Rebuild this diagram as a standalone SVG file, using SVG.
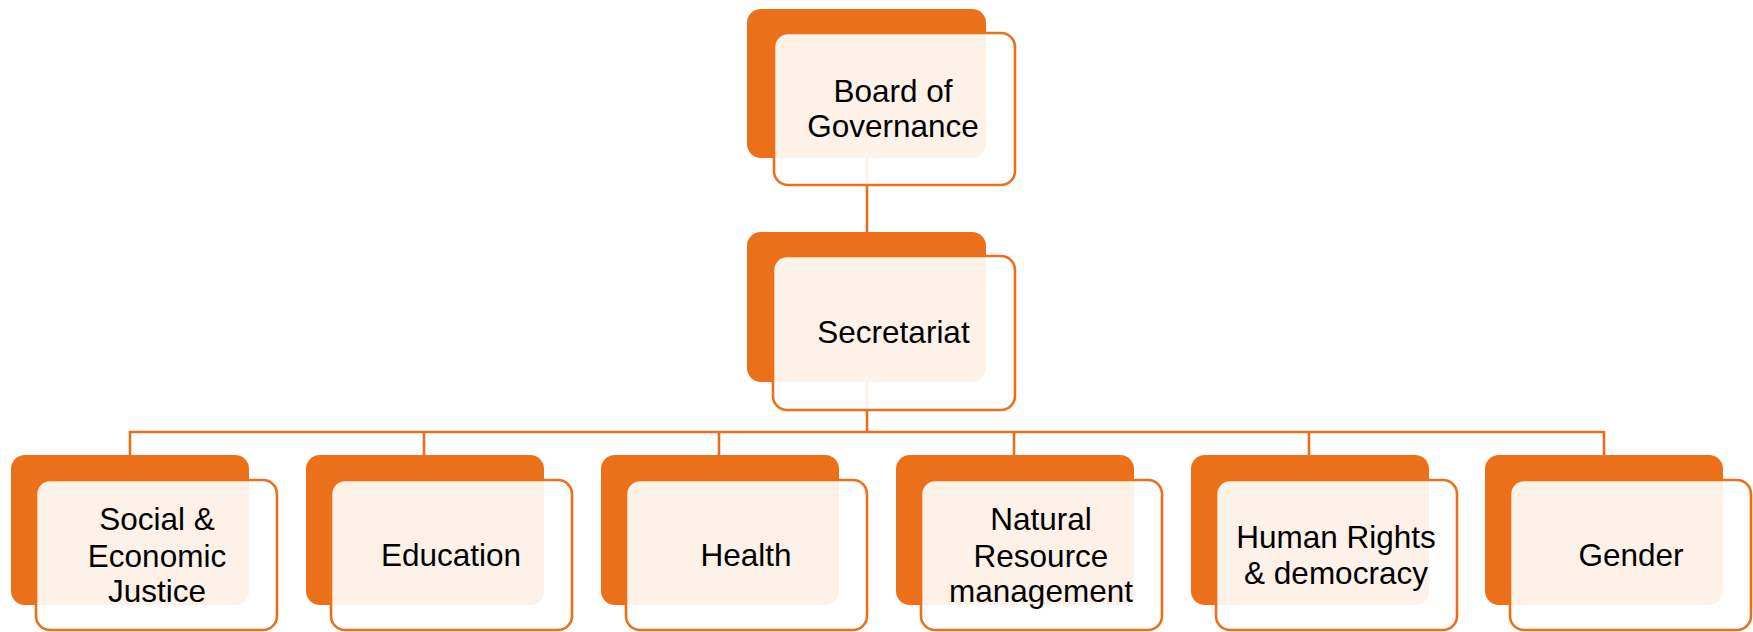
<svg xmlns="http://www.w3.org/2000/svg" width="1753" height="632" viewBox="0 0 1753 632">
<style>
.back{fill:#EC7019;}
.front{fill:#FFFFFF;fill-opacity:0.9;stroke:#EC7019;stroke-width:2.6;}
.conn{stroke:#E76E1B;stroke-width:2.6;fill:none;}
text{font-family:"Liberation Sans",Arial,sans-serif;font-size:31.5px;fill:#000;text-anchor:middle;}
</style>
<rect width="1753" height="632" fill="#FFFFFF"/>
<g id="connectors">
<line class="conn" x1="867" y1="150" x2="867" y2="234"/>
<line class="conn" x1="867" y1="370" x2="867" y2="432"/>
<line class="conn" x1="130" y1="432" x2="1604" y2="432"/>
<line class="conn" x1="130" y1="431" x2="130" y2="456"/>
<line class="conn" x1="424" y1="431" x2="424" y2="456"/>
<line class="conn" x1="719" y1="431" x2="719" y2="456"/>
<line class="conn" x1="1014" y1="431" x2="1014" y2="456"/>
<line class="conn" x1="1309" y1="431" x2="1309" y2="456"/>
<line class="conn" x1="1604" y1="431" x2="1604" y2="456"/>
</g>
<g id="board">
<rect class="back" x="747" y="9" width="239" height="149" rx="14"/>
<rect class="front" x="774" y="33" width="241" height="152" rx="14"/>
<text x="893" y="102">Board of</text>
<text x="893" y="137">Governance</text>
</g>
<g id="secretariat">
<rect class="back" x="747" y="232" width="239" height="150" rx="14"/>
<rect class="front" x="773" y="256" width="242" height="154" rx="14"/>
<text x="893.5" y="343">Secretariat</text>
</g>
<g id="social">
<rect class="back" x="11" y="455" width="238" height="150" rx="14"/>
<rect class="front" x="36" y="480" width="241" height="150" rx="14"/>
<text x="157" y="530">Social &amp;</text>
<text x="157" y="567">Economic</text>
<text x="157" y="602">Justice</text>
</g>
<g id="education">
<rect class="back" x="306" y="455" width="238" height="150" rx="14"/>
<rect class="front" x="331" y="480" width="241" height="150" rx="14"/>
<text x="451" y="566">Education</text>
</g>
<g id="health">
<rect class="back" x="601" y="455" width="238" height="150" rx="14"/>
<rect class="front" x="626" y="480" width="241" height="150" rx="14"/>
<text x="746" y="566">Health</text>
</g>
<g id="natural">
<rect class="back" x="896" y="455" width="238" height="150" rx="14"/>
<rect class="front" x="921" y="480" width="241" height="150" rx="14"/>
<text x="1041" y="530">Natural</text>
<text x="1041" y="567">Resource</text>
<text x="1041" y="602">management</text>
</g>
<g id="humanrights">
<rect class="back" x="1191" y="455" width="238" height="150" rx="14"/>
<rect class="front" x="1216" y="480" width="241" height="150" rx="14"/>
<text x="1336" y="548">Human Rights</text>
<text x="1336" y="584">&amp; democracy</text>
</g>
<g id="gender">
<rect class="back" x="1485" y="455" width="238" height="150" rx="14"/>
<rect class="front" x="1510" y="480" width="241" height="150" rx="14"/>
<text x="1631" y="566">Gender</text>
</g>
</svg>
